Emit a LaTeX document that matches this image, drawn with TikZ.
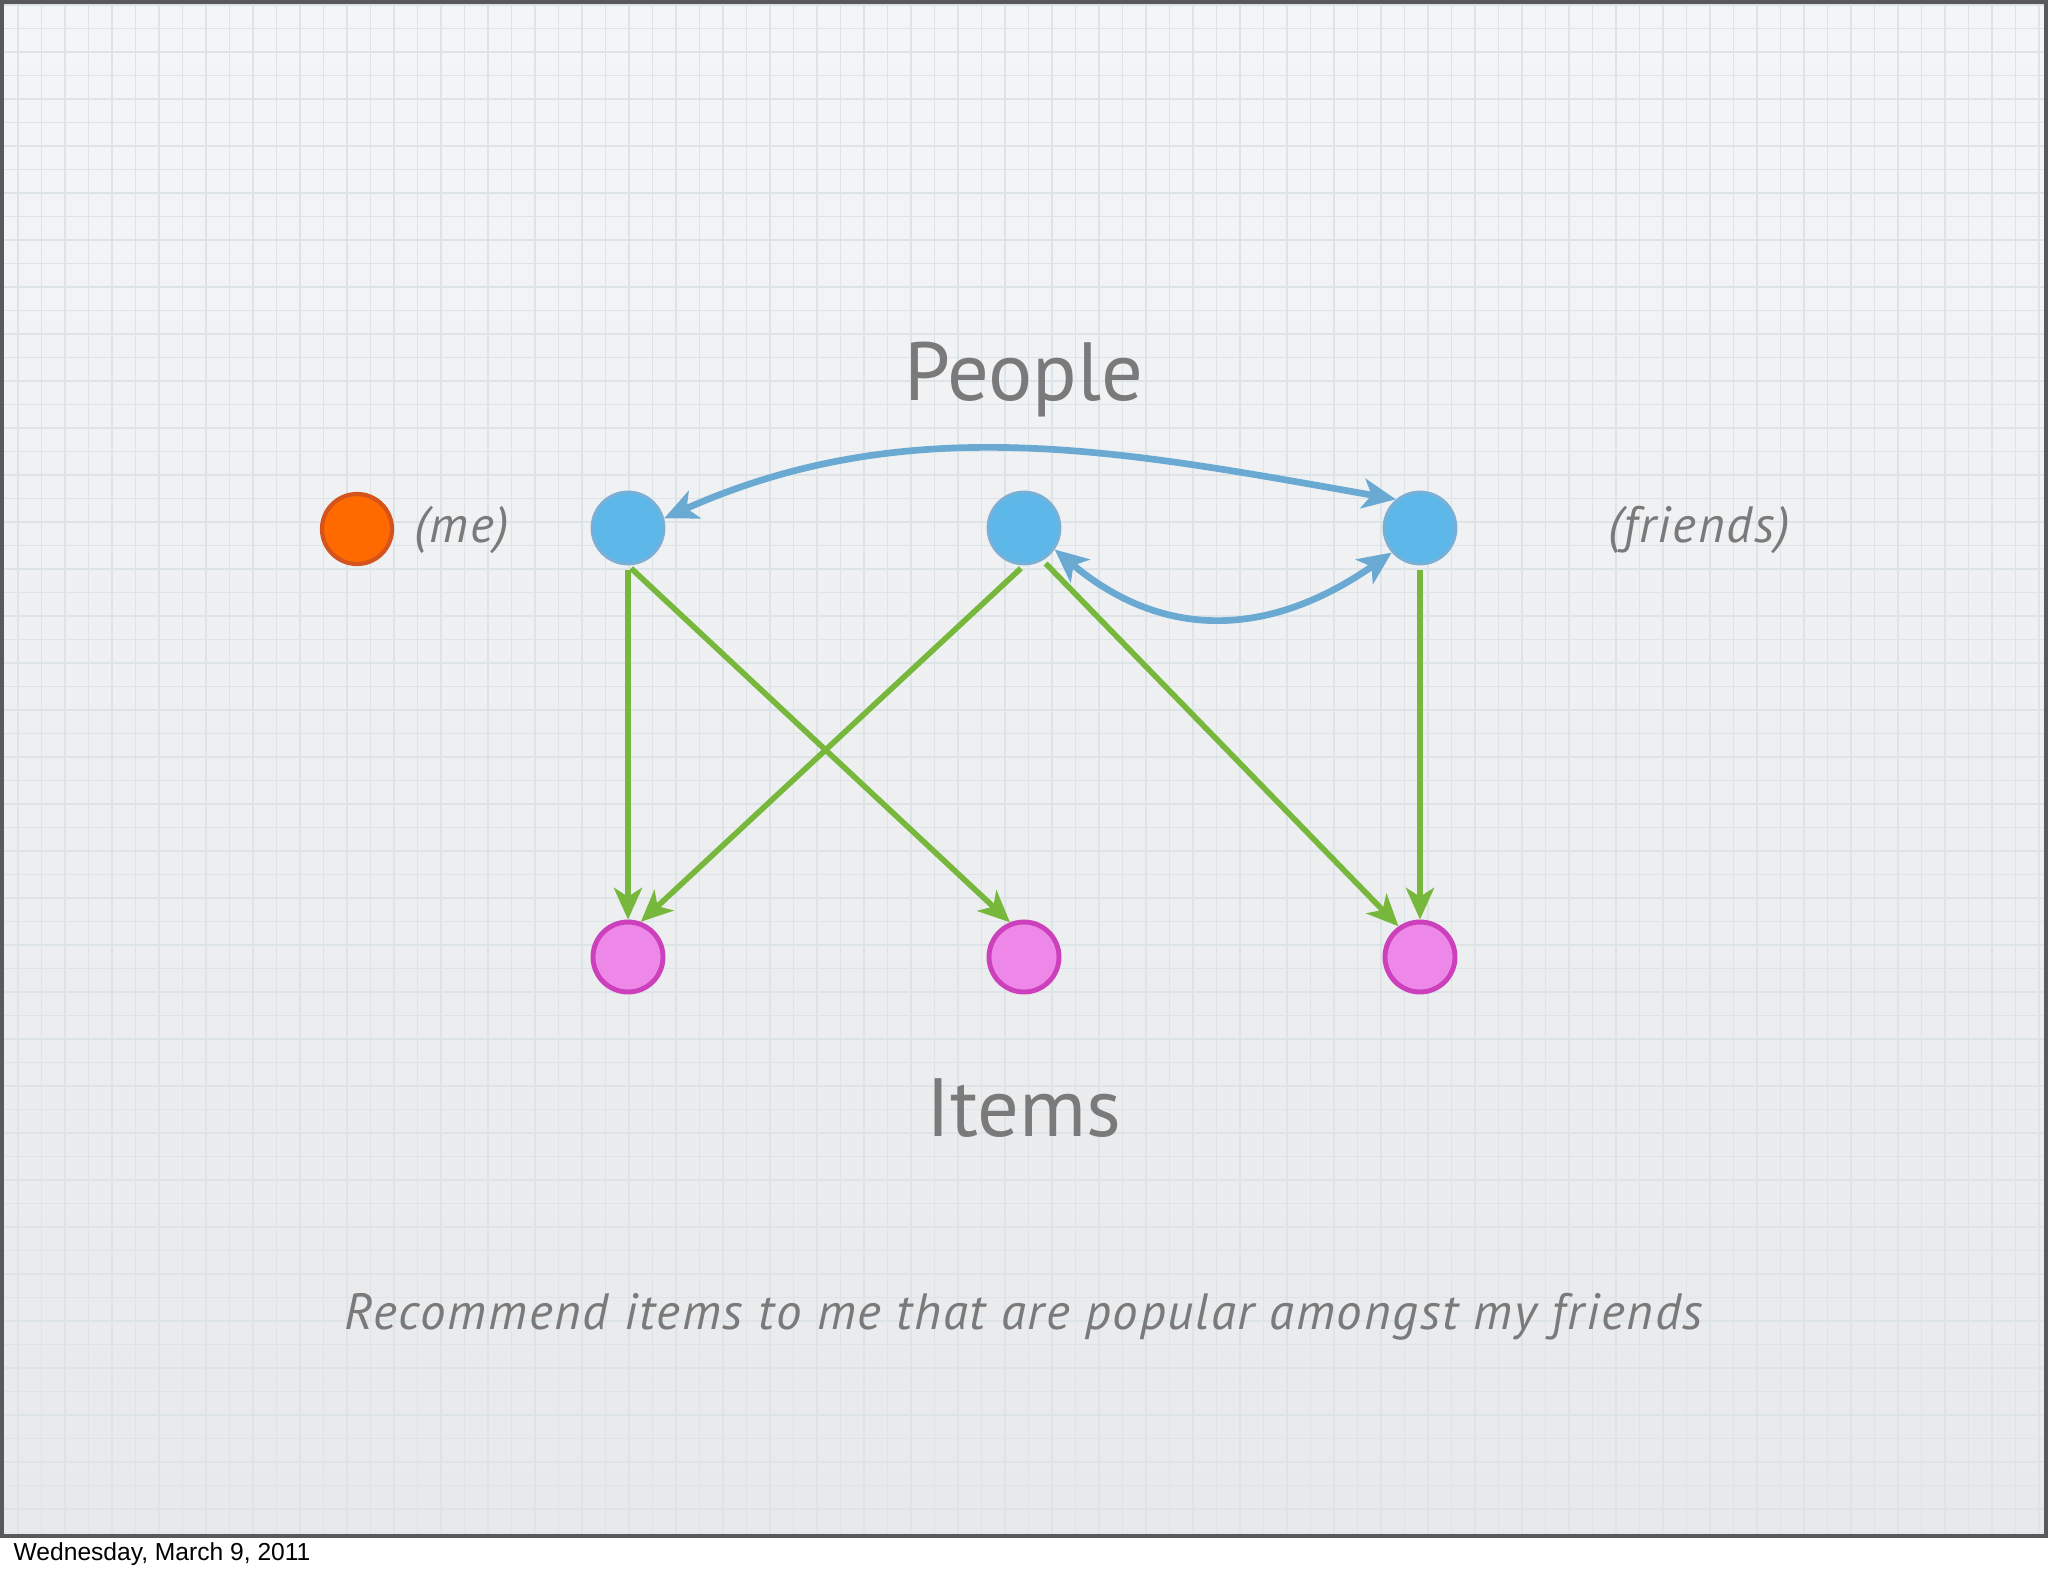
\documentclass[tikz,border=0pt]{standalone}
\usepackage{fontspec}
\setmainfont{PT Sans}
\newfontfamily\notefont[LetterSpace=3.5]{PT Sans}
\newfontfamily\datefont{Liberation Sans}
\usetikzlibrary{positioning,arrows.meta}

\definecolor{slidetop}{HTML}{F3F5F6}
\definecolor{slidebottom}{HTML}{E7E9EB}
\definecolor{gridline}{HTML}{DDE4E7}
\definecolor{textgray}{HTML}{7A7A7A}
\definecolor{mefill}{HTML}{FF6A00}
\definecolor{meline}{HTML}{D5531C}
\definecolor{personfill}{HTML}{5DB7E9}
\definecolor{personline}{HTML}{7BAFD6}
\definecolor{itemfill}{HTML}{EE88E8}
\definecolor{itemline}{HTML}{CC40BC}
\definecolor{likegreen}{HTML}{77B73B}
\definecolor{friendblue}{HTML}{6AA9D2}

\tikzset{
  me/.style={circle, minimum size=0.7cm, inner sep=0pt, fill=mefill, draw=meline, line width=1.2pt},
  person/.style={circle, minimum size=0.72cm, inner sep=0pt, fill=personfill, draw=personline, line width=0.8pt},
  item/.style={circle, minimum size=0.7cm, inner sep=0pt, fill=itemfill, draw=itemline, line width=1.4pt},
  heading/.style={text=textgray, font=\fontsize{23.5}{28}\selectfont},
  note/.style={text=textgray, font=\notefont\fontsize{14.5}{17}\selectfont\itshape},
  likes/.style={draw=likegreen, line width=1.6pt, -{Stealth[length=9pt, width=8pt, inset=2.5pt]}, shorten <=1.2pt},
  knows/.style={draw=friendblue, line width=1.9pt, {Stealth[length=9.5pt, width=8.5pt, inset=2.5pt]}-{Stealth[length=9.5pt, width=8.5pt, inset=2.5pt]}}
}

\begin{document}
\begin{tikzpicture}[node distance=3.96cm and 3.96cm, auto]

  % slide background
  \useasboundingbox (0,0) rectangle (20.48,-15.76);
  \fill[white] (0,0) rectangle (20.48,-15.76);
  \shade[top color=slidetop, bottom color=slidebottom] (0,0) rectangle (20.48,-15.36);
  \begin{scope}
    \clip (0,0) rectangle (20.48,-15.36);
    \draw[gridline, line width=0.5pt, xshift=0.18cm, yshift=-0.05cm, step=0.235cm] (-0.5,0.5) grid (21,-16);
  \end{scope}
  \draw[black!65, line width=1.4pt] (0.02,-0.02) rectangle (20.46,-15.36);

  % people row
  \node[me] (me) at (3.57,-5.29) {};
  \node[note, anchor=west] (melabel) at (4.02,-5.30) {(me)};
  \node[person] (A1) at (6.28,-5.28) {};
  \node[person, right of=A1] (A2) {};
  \node[person, right of=A2] (A3) {};
  \node[note] (friends) at (16.99,-5.30) {(friends)};

  % items row
  \node[item, below of=A1, node distance=4.29cm] (I1) {};
  \node[item, right of=I1] (I2) {};
  \node[item, right of=I2] (I3) {};

  % titles
  \node[heading] (people) at (10.24,-3.80) {People};
  \node[heading] (items) at (10.24,-11.08) {Items};
  \node[note] (caption) at (10.24,-13.17) {Recommend items to me that are popular amongst my friends};
  \node[anchor=west, inner sep=0pt, font=\datefont\fontsize{7}{8}\selectfont] (date) at (0.13,-15.54) {Wednesday, March 9, 2011};

  % friendships
  \draw[knows] (A1.15) to[out=24, in=170, looseness=0.95] (A3.130);
  \draw[knows] (A2.-35) to[out=-40, in=215, looseness=1.1] (A3.221);

  % likes
  \draw[likes] (A1.south) -- (I1.north);
  \draw[likes] (A1.south) -- (I2.112);
  \draw[likes] (A2.south) -- (I1.70);
  \draw[likes] (A2.-60) -- (I3.125);
  \draw[likes] (A3.south) -- (I3.north);

\end{tikzpicture}
\end{document}
